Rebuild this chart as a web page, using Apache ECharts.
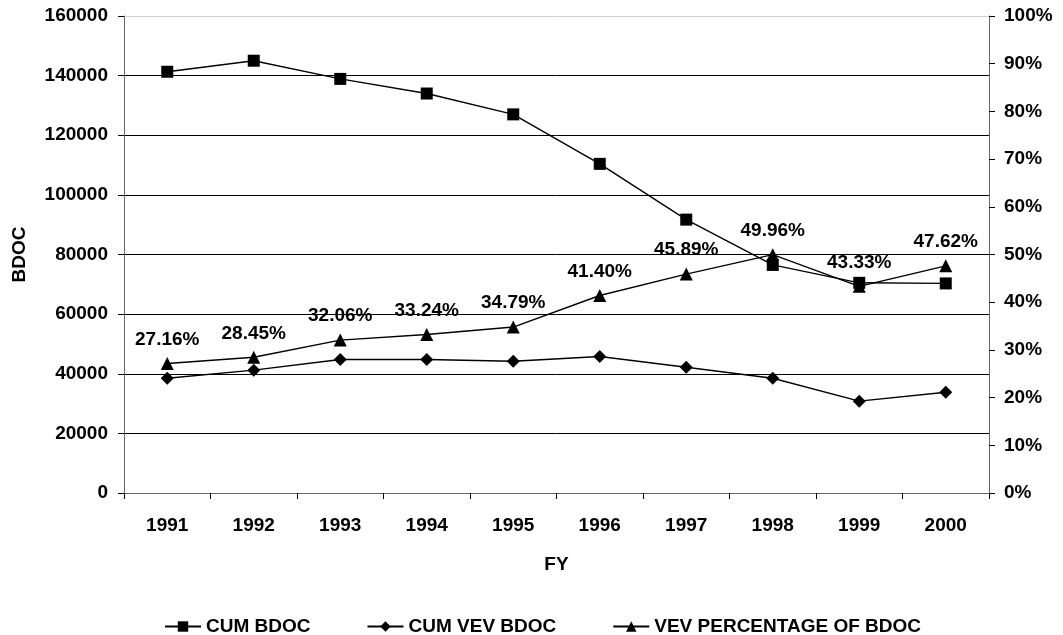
<!DOCTYPE html>
<html>
<head>
<meta charset="utf-8">
<script src="https://cdn.jsdelivr.net/npm/echarts@6/dist/echarts.min.js"></script>
<style>
  html, body { margin: 0; padding: 0; background: #fff; }
  #chart { width: 1063px; height: 635px; }
</style>
</head>
<body>
<div id="chart"></div>
<script>
// fiscal years
const years = ['1991', '1992', '1993', '1994', '1995', '1996', '1997', '1998', '1999', '2000'];

// series values
const cumBdoc = [141300, 145000, 138900, 134000, 127000, 110400, 91700, 76500, 70500, 70300];
const cumVevBdoc = [38500, 41200, 44800, 44800, 44200, 45800, 42200, 38500, 30800, 33800];
const vevPct = [27.16, 28.45, 32.06, 33.24, 34.79, 41.40, 45.89, 49.96, 43.33, 47.62];

const FONT = 'Liberation Sans, Arial, sans-serif';
const txt = { color: '#000', fontFamily: FONT, fontWeight: 'bold', fontSize: 19 };

// gridlines: black, top one light grey
const gridColors = ['#000', '#000', '#000', '#000', '#000', '#000', '#000', '#000', '#d0d0d0'];

const chart = echarts.init(document.getElementById('chart'));

chart.setOption({
    animation: false,
    grid: { left: 124, right: 74, top: 16, bottom: 142 },
    legend: {
        top: 612,
        left: 159,
        itemGap: 56,
        itemWidth: 36,
        itemHeight: 13,
        textStyle: txt,
        data: ['CUM BDOC', 'CUM VEV BDOC', 'VEV PERCENTAGE OF BDOC']
    },
    xAxis: {
        type: 'category',
        data: years,
        boundaryGap: true,
        name: 'FY',
        nameLocation: 'middle',
        nameGap: 62,
        nameTextStyle: txt,
        axisLine: { lineStyle: { color: '#666', width: 1 } },
        axisTick: { show: true, length: 6, lineStyle: { color: '#000' } },
        axisLabel: Object.assign({ margin: 23 }, txt)
    },
    yAxis: [
        {
            type: 'value',
            min: 0,
            max: 160000,
            interval: 20000,
            name: 'BDOC',
            nameLocation: 'middle',
            nameGap: 95,
            nameRotate: 90,
            nameTextStyle: txt,
            axisLine: { show: true, lineStyle: { color: '#666' } },
            axisTick: { show: true, length: 6, lineStyle: { color: '#000' } },
            axisLabel: Object.assign({ margin: 16, formatter: v => String(v) }, txt),
            splitLine: { show: true, lineStyle: { color: gridColors, width: 1 } }
        },
        {
            type: 'value',
            min: 0,
            max: 100,
            interval: 10,
            position: 'right',
            axisLine: { show: true, lineStyle: { color: '#666' } },
            axisTick: { show: true, length: 6, lineStyle: { color: '#000' } },
            axisLabel: Object.assign({ margin: 15, formatter: v => v + '%' }, txt),
            splitLine: { show: false }
        }
    ],
    series: [
        {
            name: 'CUM BDOC',
            type: 'line',
            data: cumBdoc,
            symbol: 'rect',
            symbolSize: 12,
            lineStyle: { color: '#000', width: 1.4 },
            itemStyle: { color: '#000' }
        },
        {
            name: 'CUM VEV BDOC',
            type: 'line',
            data: cumVevBdoc,
            symbol: 'diamond',
            symbolSize: 13,
            lineStyle: { color: '#000', width: 1.4 },
            itemStyle: { color: '#000' }
        },
        {
            name: 'VEV PERCENTAGE OF BDOC',
            type: 'line',
            yAxisIndex: 1,
            data: vevPct,
            symbol: 'triangle',
            symbolSize: 13,
            lineStyle: { color: '#000', width: 1.4 },
            itemStyle: { color: '#000' },
            label: Object.assign({
                show: true,
                position: 'top',
                distance: 8,
                formatter: p => p.value.toFixed(2) + '%'
            }, txt),
            z: 3
        }
    ]
});
</script>
</body>
</html>
